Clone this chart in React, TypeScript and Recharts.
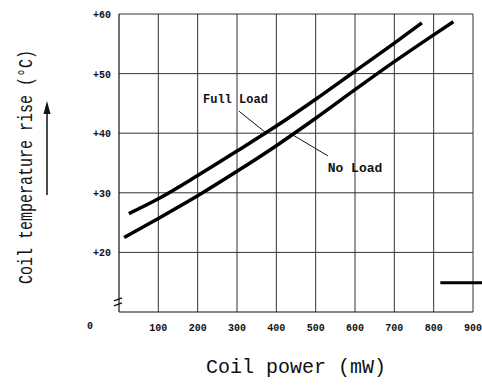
import React from 'react';
import { LineChart, Line, XAxis, YAxis, CartesianGrid, ReferenceLine, ReferenceDot } from 'recharts';

const xTicks = [0, 100, 200, 300, 400, 500, 600, 700, 800, 900];
const yTicks = [20, 30, 40, 50, 60];
const breakTick = 11.7;

const fullLoadPower = [25, 100, 200, 300, 400, 500, 600, 700, 770];
const fullLoadRise = [26.5, 29.0, 32.9, 37.0, 41.2, 45.7, 50.4, 55.1, 58.5];
const noLoadPower = [13, 100, 200, 300, 400, 500, 600, 700, 800, 850];
const noLoadRise = [22.5, 25.7, 29.5, 33.6, 37.9, 42.5, 47.3, 52.0, 56.5, 58.7];

const fullData = fullLoadPower.map((x, i) => ({ x, y: fullLoadRise[i] }));
const noData = noLoadPower.map((x, i) => ({ x, y: noLoadRise[i] }));

const fullLeader = [{ x: 305, y: 43.7 }, { x: 371, y: 40.2 }];
const noLeader = [{ x: 442, y: 39.7 }, { x: 531, y: 36.2 }];
const stub = [{ x: 817, y: 14.9 }, { x: 923, y: 14.9 }];

const FONT = '"Liberation Mono", monospace';

const XTick = (props: any) => {
  const { x, y, payload } = props;
  const zero = payload.value === 0;
  return (
    <text x={zero ? x - 29 : x} y={zero ? y + 17 : y + 19} textAnchor="middle" fontFamily={FONT} fontWeight="bold" fontSize={10} fill="#111">
      {payload.value}
    </text>
  );
};

const YTick = (props: any) => {
  const { x, y, payload } = props;
  if (payload.value === breakTick) {
    return (
      <g stroke="#111" strokeWidth={1.3}>
        <line x1={x - 5} y1={y - 1} x2={x + 3} y2={y - 4} />
        <line x1={x - 5} y1={y + 4} x2={x + 3} y2={y + 1} />
      </g>
    );
  }
  return (
    <text x={x - 8} y={y + 4} textAnchor="end" fontFamily={FONT} fontWeight="bold" fontSize={10} fill="#111">
      {'+' + payload.value}
    </text>
  );
};

const YTitle = () => (
  <g>
    <text
      x={0}
      y={0}
      transform="translate(32,167) rotate(-90) scale(1,1.35)"
      textAnchor="middle"
      fontFamily={FONT}
      fontSize={15}
      fill="#111"
    >
      Coil temperature rise (°C)
    </text>
    <line x1={47} y1={195} x2={47} y2={110} stroke="#111" strokeWidth={1.5} />
    <polygon points="47,101 43.5,114 50.5,114" fill="#111" />
  </g>
);

const XTitle = () => (
  <text x={296} y={373} textAnchor="middle" fontFamily={FONT} fontSize={20} fill="#111">
    Coil power (mW)
  </text>
);

export default function App() {
  return (
    <div style={{ position: 'absolute', left: 0, top: 0, background: '#fff' }}>
      <LineChart width={482} height={389} margin={{ top: 14, right: 9, left: 0, bottom: 0 }}>
        <CartesianGrid
          horizontalValues={[20, 30, 40, 50, 60]}
          verticalValues={[100, 200, 300, 400, 500, 600, 700, 800, 900]}
          stroke="#333"
          strokeWidth={1}
        />
        <XAxis
          type="number"
          dataKey="x"
          domain={[0, 900]}
          ticks={xTicks}
          interval={0}
          tickSize={0}
          tickMargin={0}
          tick={<XTick />}
          height={77}
          axisLine={{ stroke: '#111', strokeWidth: 1.2 }}
          tickLine={false}
          label={{ content: <XTitle /> }}
        />
        <YAxis
          type="number"
          domain={[10, 60]}
          ticks={[breakTick, ...yTicks]}
          interval={0}
          tickSize={0}
          tickMargin={0}
          width={119}
          tick={<YTick />}
          axisLine={{ stroke: '#111', strokeWidth: 1.2 }}
          tickLine={false}
          label={{ content: <YTitle /> }}
        />
        <Line data={fullData} dataKey="y" type="monotone" stroke="#000" strokeWidth={3.5} dot={false} isAnimationActive={false} />
        <Line data={noData} dataKey="y" type="monotone" stroke="#000" strokeWidth={3.5} dot={false} isAnimationActive={false} />
        <ReferenceLine segment={fullLeader} stroke="#111" strokeWidth={1} ifOverflow="visible" />
        <ReferenceLine segment={noLeader} stroke="#111" strokeWidth={1} ifOverflow="visible" />
        <ReferenceLine segment={stub} stroke="#000" strokeWidth={3} ifOverflow="visible" />
        <ReferenceDot
          x={296}
          y={45.7}
          r={0}
          fill="none"
          stroke="none"
          ifOverflow="visible"
          label={{ value: 'Full Load', position: 'center', fontFamily: FONT, fontWeight: 'bold', fontSize: 12, fill: '#111' }}
        />
        <ReferenceDot
          x={600}
          y={34.3}
          r={0}
          fill="none"
          stroke="none"
          ifOverflow="visible"
          label={{ value: 'No Load', position: 'center', fontFamily: FONT, fontWeight: 'bold', fontSize: 13, fill: '#111' }}
        />
      </LineChart>
    </div>
  );
}
